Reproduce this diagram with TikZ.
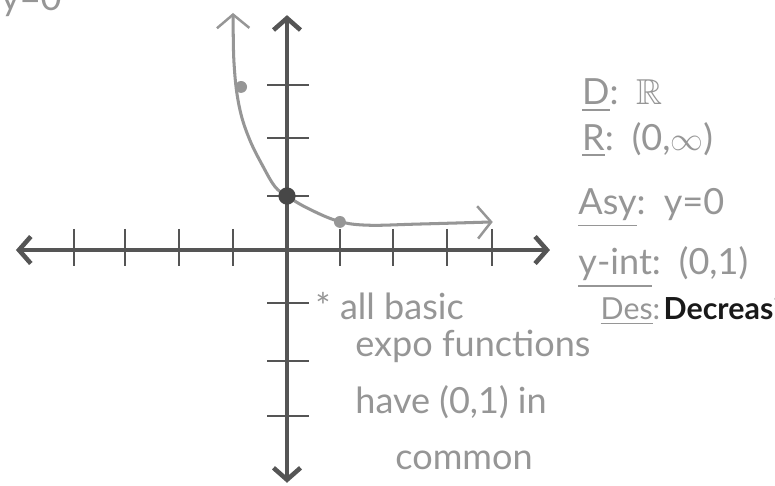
\documentclass[tikz,border=0pt]{standalone}
\usepackage{amsmath}
\usepackage{amssymb}
\usepackage{fontspec}
\setmainfont{Lato}
\usepackage{tikz}
\usetikzlibrary{arrows.meta,positioning,calc}
\definecolor{pencil}{RGB}{150,150,150}
\definecolor{axisgray}{RGB}{85,85,85}
\definecolor{ink}{RGB}{25,25,25}

\begin{document}
\begin{tikzpicture}[
  hand/.style={text=pencil,font=\fontsize{19}{21}\selectfont,anchor=base west,inner sep=0pt},
  axisline/.style={axisgray,line width=1.8pt,{Straight Barb[length=2.2mm,width=5mm,line width=2.4pt]}-{Straight Barb[length=2.2mm,width=5mm,line width=2.4pt]}},
  tickmark/.style={axisgray,line width=1.1pt},
  curveline/.style={pencil,line width=1.6pt,{Straight Barb[length=2.5mm,width=6mm,line width=1.3pt]}-{Straight Barb[length=2.5mm,width=6mm,line width=1.3pt]}}
]
\useasboundingbox (-5.315,-4.37) rectangle (9.037,4.63);
\clip (-5.315,-4.37) rectangle (9.037,4.63);
\fill[white] (-5.315,-4.37) rectangle (9.037,4.63);
% axes
\coordinate (xl) at (-5.02,0);
\coordinate (xr) at (4.87,0);
\coordinate (yb) at (0,-4.31);
\coordinate (yt) at (0,4.35);
\draw[axisline] (xl) -- (xr);
\draw[axisline] (yb) -- (yt);
\foreach \x in {-3.95,-3,-2,-1,0.98,1.96,2.96,3.8}
  \draw[tickmark] (\x,0.39) -- (\x,-0.30);
\foreach \y in {-3.07,-2.06,-0.98,1,2.07,3.06}
  \draw[tickmark] (-0.37,\y) -- (0.41,\y);
% curve
\draw[curveline] plot[smooth,tension=0.6] coordinates {(-1.0,4.39) (-0.97,3.3) (-0.87,2.59) (-0.69,2.04) (-0.44,1.54) (-0.22,1.17) (0,1.0) (0.37,0.78) (0.93,0.54) (1.48,0.46) (2.41,0.48) (3.81,0.52)};
\fill[pencil] (-0.85,3.02) circle (0.11);
\fill[pencil] (0.98,0.52) circle (0.11);
\fill[ink!80] (0,1) circle (0.16);
% notes
\node[hand] (asytop) at (-5.3,4.44) {y=0};
\node[hand] (dom) at (5.46,2.69) {\underline{D}:\enspace$\mathbb{R}$};
\node[hand] (rng) at (5.46,1.85) {\underline{R}:\enspace(0,$\infty$)};
\node[hand] (asy) at (5.39,0.66) {\underline{Asy}:\enspace y=0};
\node[hand] (yint) at (5.39,-0.46) {\underline{y-int}:\enspace(0,1)};
\node[hand] (note1) at (0.52,-1.28) {* all basic};
\node[hand,font=\fontsize{16}{18}\selectfont] (des) at (5.8,-1.28) {\underline{Des}:};
\node[hand,text=ink,font=\fontsize{16}{18}\selectfont\bfseries,right=0.05 of des.base east,anchor=base west] (dec) {Decreasing};
\node[hand] (note2) at (1.26,-1.97) {expo functions};
\node[hand] (note3) at (1.26,-3.02) {have (0,1) in};
\node[hand] (note4) at (2.0,-4.07) {common};
\end{tikzpicture}
\end{document}
